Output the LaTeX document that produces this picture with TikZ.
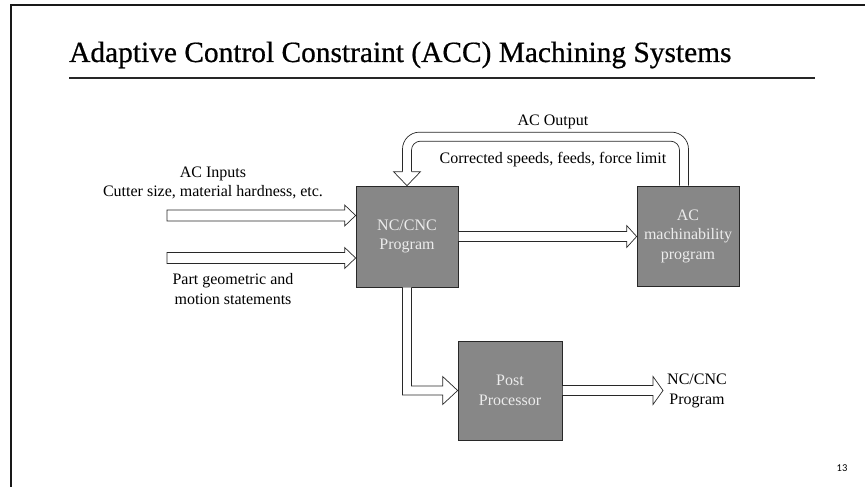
\documentclass[tikz,border=0pt]{standalone}
\usepackage{fontspec}
\setmainfont{Liberation Serif}
\newfontfamily\titlefont[FakeBold=0.6]{Liberation Serif}
\newfontfamily\numfont{Carlito}
\usetikzlibrary{calc}
\definecolor{boxgray}{RGB}{135,135,135}
\definecolor{boxtext}{RGB}{236,236,236}
\definecolor{lineblk}{RGB}{40,40,40}
\newcommand\harr[5]{%
  \draw[arr] ($#1+(0,-#3)$) -- ($#2+(-#5,-#3)$) -- ($#2+(-#5,-#4)$) -- #2
    -- ($#2+(-#5,#4)$) -- ($#2+(-#5,#3)$) -- ($#1+(0,#3)$) -- cycle;}
\begin{document}
\begin{tikzpicture}[x=1pt,y=-1pt,
  blk/.style={draw=lineblk, line width=0.7pt, fill=boxgray, text=boxtext,
    minimum width=#1, align=center, inner sep=0pt,
    font=\fontsize{16}{19.5}\selectfont},
  blk/.default=102pt,
  lbl/.style={align=center, inner sep=0pt, font=\fontsize{16}{19.5}\selectfont},
  arr/.style={draw=lineblk, line width=0.7pt, fill=white},
  arrline/.style={draw=lineblk, line width=0.7pt}]
\useasboundingbox (0,0) rectangle (865,487);
% frame
\draw[line width=2pt, color=black!90] (866,5) -- (11,5) -- (11,488);
% title
\node[anchor=base west, inner sep=0pt, font=\titlefont\fontsize{29.4}{32}\selectfont] (title) at (69,62)
  {Adaptive Control Constraint (ACC) Machining Systems};
\draw[line width=1.5pt, color=black!85] (69,78) coordinate (r1) -- (815,78) coordinate (r2);
% boxes
\node[blk, minimum height=101pt] (nc) at (407,236.5) {NC/CNC\\Program};
\node[blk, minimum height=100pt] (acm) at (688,236) {AC\\machinability\\program};
\node[blk=104pt, minimum height=99pt] (post) at (510,390.5) {Post\\Processor};
% labels
\node[lbl] (inlbl) at (213,183) {AC Inputs\\Cutter size, material hardness, etc.};
\node[lbl] (partlbl) at (233,289) {Part geometric and\\motion statements};
\node[lbl] (acout) at (553,122) {AC Output};
\node[lbl] (corr) at (553,160) {Corrected speeds, feeds, force limit};
\node[lbl] (outlbl) at (697,391) {NC/CNC\\Program};
\node[anchor=center, inner sep=0pt, font=\numfont\fontsize{10.5}{12}\selectfont] (pg) at (842,468.5) {13};
% input arrows
\coordinate (in1) at (167,215.5);
\coordinate (in2) at (167,258);
\harr{(in1)}{(nc.west |- in1)}{5.5}{10.5}{11}
\harr{(in2)}{(nc.west |- in2)}{5.5}{10.5}{11}
% NC -> AC machinability
\harr{(nc.east)}{(acm.west |- nc.east)}{5}{11}{10}
% Post -> output
\coordinate (otip) at (663,390.5);
\harr{(post.east)}{(otip)}{5}{14}{10}
% NC -> Post (L-shaped)
\coordinate (k) at (nc.south |- post.west);
\draw[arr] ($(nc.south)+(-4.5,0)$) -- ($(k)+(-4.5,4.5)$) -- ($(post.west)+(-15,4.5)$)
  -- ($(post.west)+(-15,14)$) -- (post.west) -- ($(post.west)+(-15,-14)$)
  -- ($(post.west)+(-15,-4.5)$) -- ($(k)+(4.5,-4.5)$) -- ($(nc.south)+(4.5,0)$);
% feedback arrow
\coordinate (fbs) at ($(acm.north)+(-4,0)$);
\coordinate (fbA) at ($(fbs)+(0,-49)$);
\coordinate (fbB) at (nc.north |- fbA);
\draw[arrline, rounded corners=17pt] ($(fbs)+(4.5,0)$) -- ($(fbA)+(4.5,-4.5)$)
  -- ($(fbB)+(-4.5,-4.5)$) -- ($(nc.north)+(-4.5,-14)$);
\draw[arrline, rounded corners=9pt] ($(fbs)+(-4.5,0)$) -- ($(fbA)+(-4.5,4.5)$)
  -- ($(fbB)+(4.5,4.5)$) -- ($(nc.north)+(4.5,-14)$);
\draw[arrline] ($(nc.north)+(-4.5,-14)$) -- ($(nc.north)+(-13.5,-14)$) -- (nc.north)
  -- ($(nc.north)+(13.5,-14)$) -- ($(nc.north)+(4.5,-14)$);
\end{tikzpicture}
\end{document}
